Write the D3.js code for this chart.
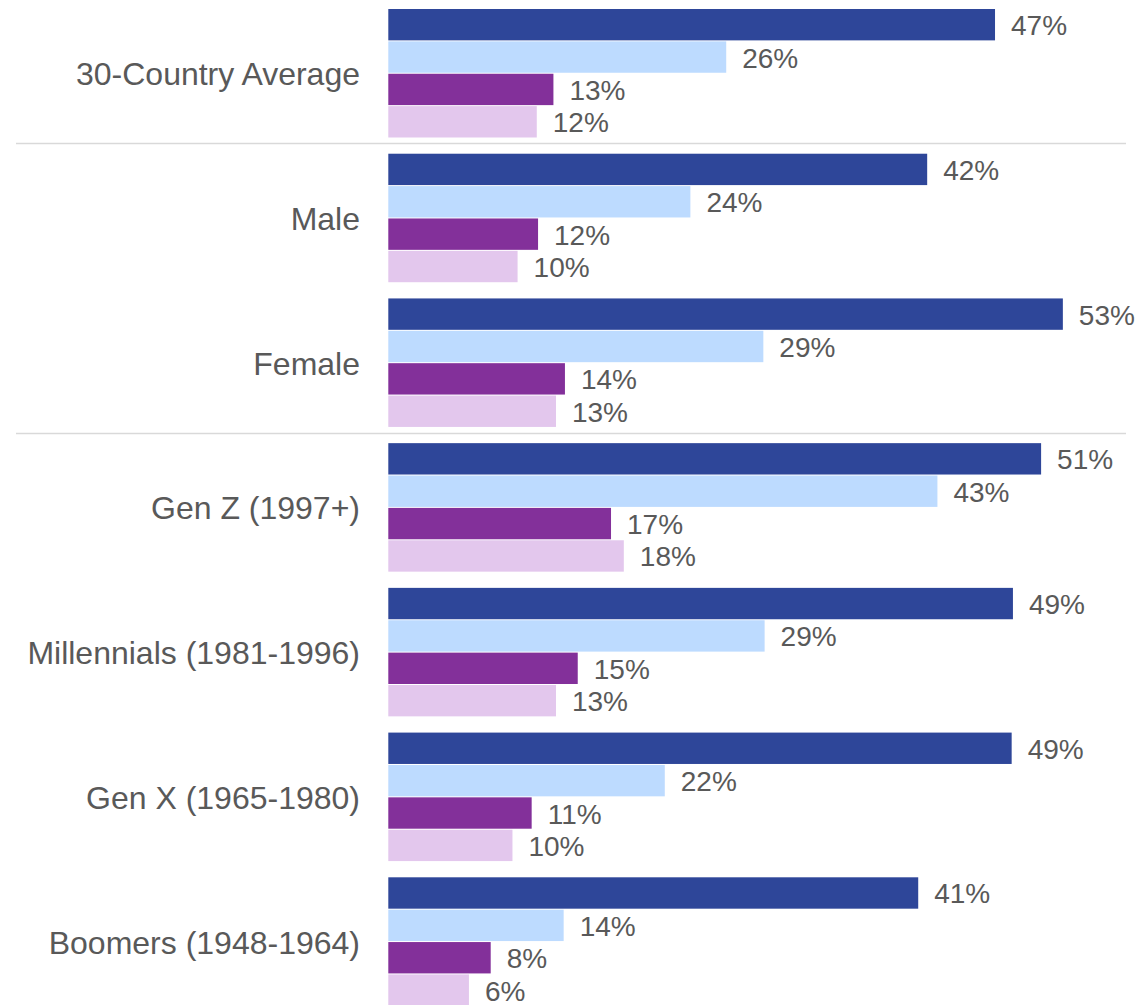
<!DOCTYPE html>
<html lang="en">
<head>
  <meta charset="UTF-8">
  <title>Grouped bars</title>
  <script src="https://d3js.org/d3.v7.min.js"></script>
  <style>
    body { margin: 0; background: #fff; }
    text { font-family: "Liberation Sans", Arial, sans-serif; fill: #595959; }
  </style>
</head>
<body>
<script>
var width = 1148,
    height = 1005;

// groups, top to bottom
var categories = ["30-Country Average", "Male", "Female", "Gen Z (1997+)",
                  "Millennials (1981-1996)", "Gen X (1965-1980)", "Boomers (1948-1964)"];

// four series per group, in %
var series1 = [47.4, 42.1, 52.7, 51.0, 48.8, 48.7, 41.4];
var series2 = [26.4, 23.6, 29.3, 42.9, 29.4, 21.6, 13.7];
var series3 = [12.9, 11.7, 13.8, 17.4, 14.8, 11.2, 8.0];
var series4 = [11.6, 10.1, 13.1, 18.4, 13.1, 9.7, 6.3];

var colors = ["#2e4699", "#bddbff", "#83309a", "#e3c7ed"];

// a rule goes under these groups
var separatorsAfter = [0, 2];

var allSeries = [series1, series2, series3, series4];

var svg = d3.select("body").append("svg")
    .attr("width", width)
    .attr("height", height);

var x = d3.scaleLinear()
    .domain([0, 100])
    .range([388.3, 388.3 + 1280]);

var y = d3.scaleBand()
    .domain(categories)
    .range([9, 1006.8])
    .paddingInner(0.1052)
    .paddingOuter(0);

var yInner = d3.scaleBand()
    .domain(d3.range(allSeries.length))
    .range([0, y.bandwidth()]);

var fmt = function(v) { return d3.format(".0f")(v) + "%"; };

function sepY(i) {
  return Math.round((y(categories[i]) + y.bandwidth() + y(categories[i + 1])) / 2 - 3) + 0.5;
}

// separator rules
svg.selectAll("line.sep").data(separatorsAfter)
  .enter().append("line")
    .attr("class", "sep")
    .attr("x1", 16)
    .attr("x2", 1126)
    .attr("y1", sepY)
    .attr("y2", sepY)
    .attr("stroke", "#d9d9d9")
    .attr("stroke-width", 1.5);

var groups = svg.selectAll("g.grp").data(categories)
  .enter().append("g")
    .attr("class", "grp")
    .attr("transform", function(d) { return "translate(0," + y(d) + ")"; });

// category labels
groups.append("text")
    .attr("x", 360)
    .attr("y", y.bandwidth() / 2 + 11.5)
    .attr("text-anchor", "end")
    .style("font-size", "32px")
    .text(function(d) { return d; });

var cells = groups.selectAll("g.cell")
    .data(function(d, i) {
      return allSeries.map(function(s, k) { return {k: k, v: s[i]}; });
    })
  .enter().append("g")
    .attr("class", "cell");

cells.append("rect")
    .attr("x", x(0))
    .attr("y", function(d) { return yInner(d.k); })
    .attr("width", function(d) { return x(d.v) - x(0); })
    .attr("height", yInner.bandwidth() - 1)
    .attr("fill", function(d) { return colors[d.k]; });

cells.append("text")
    .attr("x", function(d) { return x(d.v) + 16; })
    .attr("y", function(d) { return yInner(d.k) + yInner.bandwidth() / 2 + 10; })
    .style("font-size", "28px")
    .text(function(d) { return fmt(d.v); });
</script>
</body>
</html>
